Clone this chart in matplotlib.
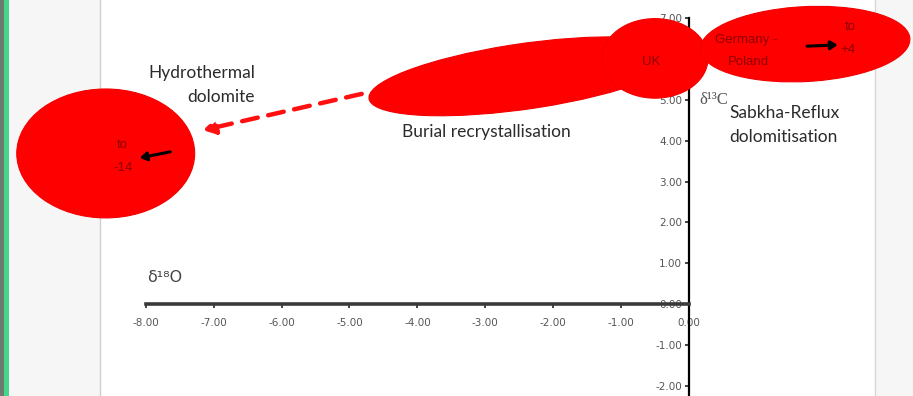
import matplotlib
matplotlib.use("Agg")
import matplotlib.pyplot as plt
from matplotlib.patches import Ellipse, Rectangle, FancyArrowPatch

# ---------------- data ----------------
x_ticks = [-8, -7, -6, -5, -4, -3, -2, -1, 0]
y_ticks = [-2, -1, 0, 1, 2, 3, 4, 5, 6, 7]

# fields: name, centre d18O, centre d13C, width (d18O), height (d13C), angle
field_names = ["Hydrothermal", "Burial", "UK", "Germany-Poland"]
field_x = [-8.59, -2.42, -0.50, 1.71]
field_y = [3.69, 5.58, 6.02, 6.37]
field_w = [2.62, 4.72, 1.56, 3.10]
field_h = [3.16, 1.58, 1.95, 1.83]
field_angle = [0, 14.5, 0, 6.6]

# trend arrows (start, end) in d18O / d13C
hydro_arrow = [(-7.64, 3.73), (-8.09, 3.58)]
germany_arrow = [(1.74, 6.32), (2.19, 6.35)]
burial_arrow = [(-4.82, 5.15), (-7.16, 4.26)]

XLIM = (-10.147, 3.299)
YLIM = (-2.255, 7.451)

# ---------------- figure ----------------
fig = plt.figure(figsize=(9.13, 3.96), dpi=100)
ax = fig.add_axes([0, 0, 1, 1])
ax.set_xlim(*XLIM)
ax.set_ylim(*YLIM)
ax.set_facecolor("white")

# slide frame
ta = ax.transAxes
ax.add_patch(Rectangle((0, 0), 100 / 913, 1, transform=ta, facecolor="#f6f6f6",
                       edgecolor="none", zorder=0))
ax.add_patch(Rectangle((875 / 913, 0), 1, 1, transform=ta, facecolor="#f6f6f6",
                       edgecolor="none", zorder=0))
ax.plot([100 / 913] * 2, [0, 1], transform=ta, color="#cfcfcf", lw=1, zorder=0.5)
ax.plot([875 / 913] * 2, [0, 1], transform=ta, color="#d8d8d8", lw=1, zorder=0.5)
ax.add_patch(Rectangle((0, 0), 4 / 913, 1, transform=ta, facecolor="#6d7a70",
                       edgecolor="none", zorder=0.6))
ax.add_patch(Rectangle((4 / 913, 0), 5 / 913, 1, transform=ta, facecolor="#45d68a",
                       edgecolor="none", zorder=0.6))

# axes through origin
for s in ["top", "right"]:
    ax.spines[s].set_visible(False)
ax.spines["bottom"].set_position(("data", 0))
ax.spines["left"].set_position(("data", 0))
ax.spines["bottom"].set_bounds(-8, 0)
ax.spines["left"].set_bounds(YLIM[0], 7)
ax.spines["bottom"].set_linewidth(2.6)
ax.spines["bottom"].set_color("#3a3a3a")
ax.spines["left"].set_linewidth(1.6)
ax.spines["left"].set_color("black")
ax.set_xticks(x_ticks)
ax.set_yticks(y_ticks)
ax.set_xticklabels([f"{v:.2f}" for v in x_ticks])
ax.set_yticklabels([f"{v:.2f}" for v in y_ticks])
ax.tick_params(axis="x", direction="out", length=3, width=1.2, color="#222",
               labelsize=7.5, labelcolor="#555555", pad=7)
ax.tick_params(axis="y", direction="out", length=3, width=1.2, color="#222",
               labelsize=7.5, labelcolor="#555555", pad=2)
for lab in ax.get_xticklabels() + ax.get_yticklabels():
    lab.set_family("DejaVu Sans")

# fields
for cx, cy, w, h, ang in zip(field_x, field_y, field_w, field_h, field_angle):
    ax.add_patch(Ellipse((cx, cy), w, h, angle=ang, facecolor="#ff0000",
                         edgecolor="#f20000", lw=0.8, zorder=3))

# arrows
for (p0, p1) in [hydro_arrow, germany_arrow]:
    ax.add_patch(FancyArrowPatch(p0, p1, arrowstyle="-|>,head_length=4,head_width=2.5",
                                 color="black", lw=2.2, zorder=5,
                                 shrinkA=0, shrinkB=0))
ax.add_patch(FancyArrowPatch(burial_arrow[0], burial_arrow[1],
                             arrowstyle="-|>,head_length=7,head_width=4",
                             color="#ff1010", lw=3.2, linestyle=(0, (3.6, 2.4)),
                             zorder=5, shrinkA=0, shrinkB=0))

lbl = dict(family=["Lato", "DejaVu Sans"], color="#2b2b2b", fontsize=12.5, zorder=6)
ax.text(-6.39, 5.66, "Hydrothermal", ha="right", va="center", **lbl)
ax.text(-6.39, 5.08, "dolomite", ha="right", va="center", **lbl)
ax.text(-2.98, 4.22, "Burial recrystallisation", ha="center", va="center", **lbl)
ax.text(0.60, 4.68, "Sabkha-Reflux", ha="left", va="center", **lbl)
ax.text(0.60, 4.09, "dolomitisation", ha="left", va="center", **lbl)
ax.text(0.16, 5.0, "δ¹³C", ha="left", va="center", family=["Liberation Serif"],
        fontsize=12, color="#555555", zorder=6)
ax.text(-7.98, 0.64, "δ¹⁸O", ha="left", va="center", family=["DejaVu Sans"],
        fontsize=11.5, color="#444444", zorder=6)

red = dict(family=["Liberation Sans", "DejaVu Sans"], color="#8c0000", fontsize=9.5,
           zorder=6, ha="center", va="center")
ax.text(-0.55, 5.93, "UK", **red)
ax.text(0.84, 6.47, "Germany -", **red)
ax.text(0.88, 5.93, "Poland", **red)
ax.text(2.37, 6.79, "to", **red)
ax.text(2.34, 6.23, "+4", **red)
ax.text(-8.34, 3.90, "to", **red)
ax.text(-8.34, 3.33, "-14", **red)

fig.savefig("out.png", dpi=100)
